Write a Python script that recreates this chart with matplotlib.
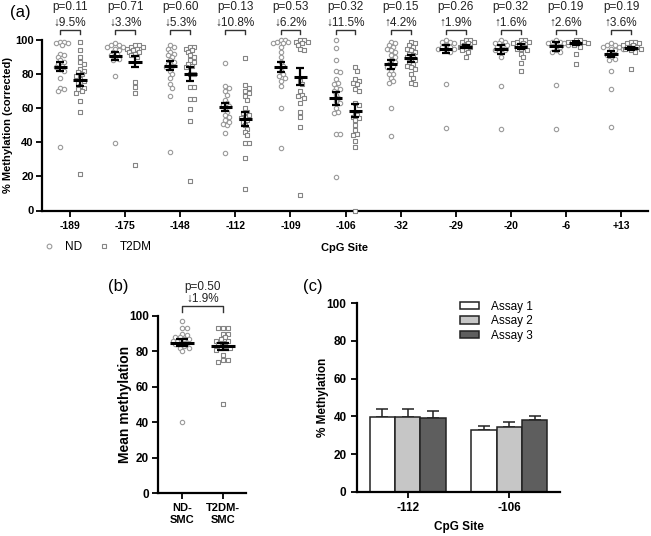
import numpy as np
import matplotlib
matplotlib.use('Agg')
import matplotlib.pyplot as plt
from matplotlib.lines import Line2D

plt.rcParams['font.family'] = ['Liberation Sans', 'DejaVu Sans']

# ---- panel (a): methylation per CpG site ----
sites = ['-189', '-175', '-148', '-112', '-109', '-106', '-32', '-29', '-20', '-6', '+13']
nd_points = [
    [99, 99, 98, 98, 97, 92, 91, 90, 88, 87, 86, 85, 84, 83, 82, 78, 72, 70, 71, 37.4],
    [98, 97, 97, 96, 96, 95, 94, 93, 92, 91, 90, 89, 88, 79, 39.4],
    [97, 96, 95, 93, 92, 91, 90, 88, 87, 86, 85, 84, 82, 80, 78, 74, 72, 67.2, 34.5],
    [86.3, 73, 72, 70, 68, 65, 63, 62, 61, 60, 58, 56, 55, 53, 51, 50, 52, 45.3, 33.5],
    [100, 100, 99, 99, 98, 98, 96, 93, 90, 87, 85, 82, 80, 79, 78, 76, 73, 60, 36.5],
    [100, 95.5, 88.3, 82, 81, 77, 75, 74, 72, 71, 70, 68, 66, 64, 63, 60, 58, 57, 44.9, 44.9, 19.8],
    [99, 98, 97, 96, 95, 94, 93, 91, 90, 88, 87, 86, 85, 84, 82, 80, 80, 78, 76, 75, 60.3, 43.7],
    [100, 99, 99, 98, 97, 96, 96, 95, 95, 94, 93, 74.2, 48.6],
    [100, 99, 98, 98, 97, 97, 96, 95, 94, 94, 93, 90, 73.2, 47.6],
    [100, 99, 99, 98, 98, 97, 97, 96, 94, 93, 93, 73.6, 47.6],
    [98, 97, 97, 96, 96, 95, 95, 94, 93, 92, 91, 90, 89, 88, 81.8, 71.3, 48.8],
]
t2dm_points = [
    [99, 94, 90, 87, 86, 83, 82, 81, 80, 79, 77, 76, 75, 73, 72, 71, 70, 69, 64, 58, 21.4],
    [97, 97, 96, 96, 95, 95, 94, 93, 93, 92, 91, 90, 75.6, 72.6, 68.7, 26.7],
    [96, 96, 95, 94, 93, 91, 90, 88, 87, 86, 85, 84, 80, 80, 72.3, 72.3, 65.4, 65.4, 59.5, 52.5, 17.3],
    [89.3, 73.6, 72, 70, 69, 67, 65, 60, 58, 57, 56, 55, 54, 53, 52, 50, 48, 46, 44, 39.4, 39.4, 30.6, 12.6],
    [100, 100, 99, 99, 98, 97, 95, 94, 76, 74, 70, 68, 67, 66, 63, 58, 54.7, 48.8, 9.1],
    [84, 82, 77, 76, 75, 74, 71, 70, 63, 62, 58, 56, 55, 54, 53, 50, 47, 45, 44, 41, 37.4, 0],
    [99, 98, 97, 96, 95, 94, 93, 92, 91, 90, 89, 88, 87, 86, 85, 84, 83, 80, 78, 75, 74],
    [100, 100, 99, 99, 98, 97, 96, 96, 95, 94, 93, 90],
    [100, 100, 99, 99, 98, 98, 97, 96, 95, 95, 94, 92, 90, 86.3, 81.8],
    [100, 100, 99, 99, 99, 98, 98, 97, 96, 92, 85.9],
    [99, 99, 98, 98, 97, 97, 96, 96, 95, 95, 94, 93, 83],
]
nd_mean = [84.3, 90.6, 84.8, 60.5, 84.0, 65.8, 85.7, 94.5, 94.5, 96.3, 91.8]
nd_sem = [2.6, 2.5, 2.6, 2.3, 2.9, 3.9, 2.6, 2.4, 2.6, 2.6, 2.0]
t2dm_mean = [76.5, 87.3, 80.1, 53.7, 78.5, 58.5, 89.3, 96.1, 96.0, 98.4, 95.1]
t2dm_sem = [3.7, 3.4, 3.9, 3.9, 4.9, 3.9, 2.0, 1.0, 1.5, 1.2, 1.0]
p_values = ['p=0.11', 'p=0.71', 'p=0.60', 'p=0.13', 'p=0.53', 'p=0.32',
            'p=0.15', 'p=0.26', 'p=0.32', 'p=0.19', 'p=0.19']
changes = ['↓9.5%', '↓3.3%', '↓5.3%', '↓10.8%', '↓6.2%', '↓11.5%',
           '↑4.2%', '↑1.9%', '↑1.6%', '↑2.6%', '↑3.6%']

# ---- panel (b): mean methylation per subject ----
b_groups = ['ND-\nSMC', 'T2DM-\nSMC']
b_nd = [97, 93, 93, 90, 89, 88, 88, 87, 87, 86, 86, 85, 85, 84, 83, 82, 82, 80, 40]
b_t2dm = [93, 93, 93, 90, 90, 88, 87, 86, 86, 85, 84, 83, 82, 82, 81, 78, 75, 75, 74, 50.5]
b_mean = [85.0, 83.0]
b_sem = [2.2, 2.0]
b_p = 'p=0.50'
b_change = '↓1.9%'

# ---- panel (c): assay comparison ----
c_sites = ['-112', '-106']
assays = ['Assay 1', 'Assay 2', 'Assay 3']
assay_mean = [[39.6, 32.6], [39.6, 34.4], [38.9, 38.3]]
assay_err = [[4.1, 2.1], [4.1, 2.4], [3.9, 2.1]]
assay_colors = ['white', '#c6c6c6', '#5e5e5e']

W, H = 651, 536
fig = plt.figure(figsize=(W / 100, H / 100), dpi=100)


def swarm(vals, xpx, ypx, diam=3.6):
    """simple beeswarm offsets (data units) for one column of points"""
    vals = np.asarray(vals, float)
    offs = np.zeros(len(vals))
    placed = []
    step = diam * 0.55
    for i in np.argsort(-vals):
        y = vals[i] * ypx
        k = 0
        while True:
            cands = [0.0] if k == 0 else [k * step, -k * step]
            ok = None
            for c in cands:
                if all((c - px) ** 2 + (y - py) ** 2 >= diam ** 2 for px, py in placed):
                    ok = c
                    break
            if ok is not None:
                placed.append((ok, y))
                offs[i] = ok / xpx
                break
            k += 1
    return offs


def style_axes(ax, lw=1.6):
    for s in ['top', 'right']:
        ax.spines[s].set_visible(False)
    for s in ['left', 'bottom']:
        ax.spines[s].set_linewidth(lw)
    ax.tick_params(direction='out', width=1.3, length=4)


circ = dict(marker='o', facecolors='white', edgecolors='#9a9a9a', linewidths=0.8, s=10, zorder=3, clip_on=False)
sq = dict(marker='s', facecolors='white', edgecolors='#858585', linewidths=0.8, s=9, zorder=3, clip_on=False)

# ===== (a) =====
ax = fig.add_axes([42 / W, 1 - 210.5 / H, 606 / W, 170.5 / H])
style_axes(ax)
n = len(sites)
x = np.arange(n)
xpx, ypx = 606 / 11, 170.5 / 100
d = 0.18
for i in range(n):
    ax.scatter(x[i] - d + swarm(nd_points[i], xpx, ypx), nd_points[i], **circ)
    ax.scatter(x[i] + d + swarm(t2dm_points[i], xpx, ypx), t2dm_points[i], **sq)
for xs, m, e in [(x - d, nd_mean, nd_sem), (x + d, t2dm_mean, t2dm_sem)]:
    ax.hlines(m, xs - 0.12, xs + 0.12, colors='k', lw=2.2, zorder=4)
    ax.errorbar(xs, m, yerr=e, fmt='none', ecolor='k', elinewidth=1.6, capsize=3, capthick=1.6, zorder=4)
for i in range(n):
    ax.plot([x[i] - d, x[i] - d, x[i] + d, x[i] + d], [103.5, 105.9, 105.9, 103.5],
            color='#333333', lw=1, clip_on=False)
    ax.text(x[i], 110.3, changes[i], ha='center', va='center', fontsize=8.5, color='#222222')
    ax.text(x[i], 119.3, p_values[i], ha='center', va='center', fontsize=8.5, color='#222222')
ax.set_xlim(-0.51, 10.49)
ax.set_ylim(0, 100)
ax.set_yticks([0, 20, 40, 60, 80, 100])
ax.set_xticks(x)
ax.set_xticklabels(sites, fontsize=7.5, fontweight='bold')
for t in ax.get_yticklabels():
    t.set_fontsize(8)
    t.set_fontweight('bold')
ax.tick_params(axis='y', pad=2)
ax.set_ylabel('% Methylation (corrected)', fontsize=8, fontweight='bold')
ax.yaxis.set_label_coords(-0.048, 0.5)
ax.set_xlabel('CpG Site', fontsize=8, fontweight='bold', labelpad=9)
handles = [Line2D([], [], ls='none', marker='o', mfc='white', mec='#9a9a9a', ms=3.4, mew=0.8),
           Line2D([], [], ls='none', marker='s', mfc='white', mec='#858585', ms=3.2, mew=0.8)]
fig.legend(handles, ['ND', 'T2DM'], ncol=2, frameon=False, fontsize=8.5,
           loc='center left', bbox_to_anchor=(37 / W, 1 - 247 / H), handletextpad=0.9,
           columnspacing=1.3, borderpad=0, handlelength=1.0)
fig.text(10 / W, 1 - 12 / H, '(a)', fontsize=12, va='center', ha='left')

# ===== (b) =====
axb = fig.add_axes([158 / W, 1 - 493 / H, 88 / W, 177 / H])
style_axes(axb)
xb = np.array([0, 1])
bx, by = 41, 1.77
axb.scatter(xb[0] + swarm(b_nd, bx, by, 4.2), b_nd, **circ)
axb.scatter(xb[1] + swarm(b_t2dm, bx, by, 4.2), b_t2dm, **sq)
axb.hlines(b_mean, xb - 0.3, xb + 0.3, colors='k', lw=2.2, zorder=4)
axb.errorbar(xb, b_mean, yerr=b_sem, fmt='none', ecolor='k', elinewidth=1.6, capsize=4.5, capthick=1.6, zorder=4)
axb.plot([0, 0, 1, 1], [102.3, 105.6, 105.6, 102.3], color='#333333', lw=1, clip_on=False)
axb.text(0.5, 109.6, b_change, ha='center', va='center', fontsize=8.5, color='#222222')
axb.text(0.5, 116.4, b_p, ha='center', va='center', fontsize=8.5, color='#222222')
axb.set_xlim(-0.585, 1.56)
axb.set_ylim(0, 100)
axb.set_yticks([0, 20, 40, 60, 80, 100])
axb.set_xticks(xb)
axb.set_xticklabels(b_groups, fontsize=8, fontweight='bold')
for t in axb.get_yticklabels():
    t.set_fontsize(8.5)
    t.set_fontweight('bold')
axb.tick_params(axis='y', pad=2.5)
axb.set_ylabel('Mean methylation', fontsize=10, fontweight='bold')
axb.yaxis.set_label_coords(-0.29, 0.5)
fig.text(118 / W, 1 - 287 / H, '(b)', fontsize=12, va='center', ha='center')

# ===== (c) =====
axc = fig.add_axes([357 / W, 1 - 492 / H, 203 / W, 189 / H])
style_axes(axc)
xc = np.arange(len(c_sites))
bw = 0.25
for k in range(len(assays)):
    axc.bar(xc + (k - 1) * bw, assay_mean[k], bw, color=assay_colors[k], edgecolor='#222222',
            lw=1.1, label=assays[k], zorder=2)
    axc.errorbar(xc + (k - 1) * bw, assay_mean[k], yerr=[[0, 0], assay_err[k]], fmt='none',
                 ecolor='#222222', elinewidth=1.1, capsize=4.5, capthick=1.1, zorder=1)
axc.set_xlim(-0.5, 1.5)
axc.set_ylim(0, 100)
axc.set_yticks([0, 20, 40, 60, 80, 100])
axc.set_xticks(xc)
axc.set_xticklabels(c_sites, fontsize=8.5, fontweight='bold')
for t in axc.get_yticklabels():
    t.set_fontsize(8.5)
    t.set_fontweight('bold')
axc.set_ylabel('% Methylation', fontsize=8.5, fontweight='bold')
axc.yaxis.set_label_coords(-0.14, 0.5)
axc.set_xlabel('CpG Site', fontsize=8.5, fontweight='bold', labelpad=5)
axc.legend(frameon=False, fontsize=8.5, loc='upper left', bbox_to_anchor=(454 / W, 1 - 295 / H),
           bbox_transform=fig.transFigure, borderpad=0, handlelength=1.6, handleheight=0.6,
           handletextpad=1.0, labelspacing=0.2)
fig.text(313 / W, 1 - 287 / H, '(c)', fontsize=12, va='center', ha='center')

fig.savefig('out.png', dpi=100)
